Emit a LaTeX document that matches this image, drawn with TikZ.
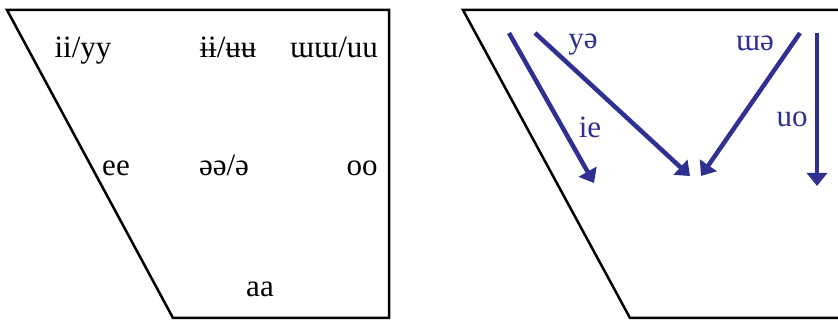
\documentclass[tikz,border=0pt]{standalone}
\usepackage{fontspec}
\setmainfont{Liberation Serif}
\usetikzlibrary{arrows.meta}
\definecolor{glideblue}{RGB}{46,49,146}

\begin{document}
\begin{tikzpicture}[x=1pt, y=-1pt,
  vowel/.style={font=\fontsize{31}{36}\selectfont, inner sep=0pt, anchor=base},
  glide/.style={line width=4.5pt, glideblue, -{Triangle[length=13pt, width=20pt]}},
  glidelabel/.style={vowel, text=glideblue}]
  \useasboundingbox (0,0) rectangle (838,320);
  \clip (0,0) rectangle (838,320);

  % monophthongs
  \draw [line width=2.5pt, line join=miter] (7,10) -- (389,10) -- (389,318) -- (173,318) -- cycle;
  \node [vowel] (ii) at (83,58) {ii/yy};
  \node [vowel] (ibar) at (228,58) {ɨɨ/ʉʉ};
  \node [vowel] (uu) at (334,58) {ɯɯ/uu};
  \node [vowel] (ee) at (116,176) {ee};
  \node [vowel] (schwa) at (224,176) {əə/ə};
  \node [vowel] (oo) at (362,176) {oo};
  \node [vowel] (aa) at (260,297) {aa};

  % diphthongs
  \draw [line width=2.5pt, line join=miter] (850,10) -- (463,10) -- (630,318) -- (850,318);
  \coordinate (ieS) at (509,33);
  \coordinate (ieE) at (594,183);
  \coordinate (yeS) at (535,33);
  \coordinate (yeE) at (690,176);
  \coordinate (weS) at (800,33);
  \coordinate (weE) at (701,176);
  \coordinate (uoS) at (817,33);
  \coordinate (uoE) at (817,186);

  \draw [glide] (ieS) -- (ieE);
  \draw [glide] (yeS) -- (yeE);
  \draw [glide] (weS) -- (weE);
  \draw [glide] (uoS) -- (uoE);

  \node [glidelabel] (ie) at (590,138) {ie};
  \node [glidelabel] (ye) at (583,49) {yə};
  \node [glidelabel] (we) at (755,51) {ɯə};
  \node [glidelabel] (uo) at (792,127) {uo};
\end{tikzpicture}
\end{document}
